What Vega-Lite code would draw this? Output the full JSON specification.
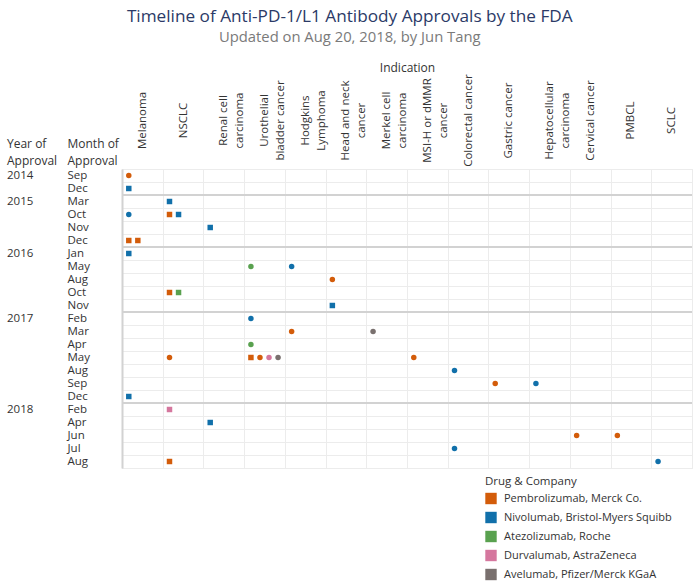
{
  "$schema": "https://vega.github.io/schema/vega-lite/v6.json",
  "width": 570,
  "height": 299,
  "autosize": {"type": "none"},
  "padding": {"left": 122, "top": 169, "right": 4, "bottom": 116},
  "title": {
    "text": "Timeline of Anti-PD-1/L1 Antibody Approvals by the FDA",
    "subtitle": "Updated on Aug 20, 2018, by Jun Tang",
    "anchor": "middle",
    "frame": "bounds",
    "font": "Open Sans",
    "subtitleFont": "Open Sans",
    "fontSize": 17.2,
    "subtitleFontSize": 14.8,
    "fontWeight": "normal",
    "color": "#2b3a67",
    "subtitleColor": "#7a7a7a",
    "subtitlePadding": 5,
    "offset": 16
  },
  "datasets": {
    "approvals": [
      {"Row": "2014 Sep", "Indication": "Melanoma", "Slot": 0, "Drug": "Pembrolizumab, Merck Co.", "Approval": "Accelerated"},
      {"Row": "2014 Dec", "Indication": "Melanoma", "Slot": 0, "Drug": "Nivolumab, Bristol-Myers Squibb", "Approval": "Regular"},
      {"Row": "2015 Mar", "Indication": "NSCLC", "Slot": 0, "Drug": "Nivolumab, Bristol-Myers Squibb", "Approval": "Regular"},
      {"Row": "2015 Oct", "Indication": "Melanoma", "Slot": 0, "Drug": "Nivolumab, Bristol-Myers Squibb", "Approval": "Accelerated"},
      {"Row": "2015 Oct", "Indication": "NSCLC", "Slot": 0, "Drug": "Pembrolizumab, Merck Co.", "Approval": "Regular"},
      {"Row": "2015 Oct", "Indication": "NSCLC", "Slot": 1, "Drug": "Nivolumab, Bristol-Myers Squibb", "Approval": "Regular"},
      {"Row": "2015 Nov", "Indication": "Renal cell carcinoma", "Slot": 0, "Drug": "Nivolumab, Bristol-Myers Squibb", "Approval": "Regular"},
      {"Row": "2015 Dec", "Indication": "Melanoma", "Slot": 0, "Drug": "Pembrolizumab, Merck Co.", "Approval": "Regular"},
      {"Row": "2015 Dec", "Indication": "Melanoma", "Slot": 1, "Drug": "Pembrolizumab, Merck Co.", "Approval": "Regular"},
      {"Row": "2016 Jan", "Indication": "Melanoma", "Slot": 0, "Drug": "Nivolumab, Bristol-Myers Squibb", "Approval": "Regular"},
      {"Row": "2016 May", "Indication": "Urothelial bladder cancer", "Slot": 0, "Drug": "Atezolizumab, Roche", "Approval": "Accelerated"},
      {"Row": "2016 May", "Indication": "Hodgkins Lymphoma", "Slot": 0, "Drug": "Nivolumab, Bristol-Myers Squibb", "Approval": "Accelerated"},
      {"Row": "2016 Aug", "Indication": "Head and neck cancer", "Slot": 0, "Drug": "Pembrolizumab, Merck Co.", "Approval": "Accelerated"},
      {"Row": "2016 Oct", "Indication": "NSCLC", "Slot": 0, "Drug": "Pembrolizumab, Merck Co.", "Approval": "Regular"},
      {"Row": "2016 Oct", "Indication": "NSCLC", "Slot": 1, "Drug": "Atezolizumab, Roche", "Approval": "Regular"},
      {"Row": "2016 Nov", "Indication": "Head and neck cancer", "Slot": 0, "Drug": "Nivolumab, Bristol-Myers Squibb", "Approval": "Regular"},
      {"Row": "2017 Feb", "Indication": "Urothelial bladder cancer", "Slot": 0, "Drug": "Nivolumab, Bristol-Myers Squibb", "Approval": "Accelerated"},
      {"Row": "2017 Mar", "Indication": "Hodgkins Lymphoma", "Slot": 0, "Drug": "Pembrolizumab, Merck Co.", "Approval": "Accelerated"},
      {"Row": "2017 Mar", "Indication": "Merkel cell carcinoma", "Slot": 0, "Drug": "Avelumab, Pfizer/Merck KGaA", "Approval": "Accelerated"},
      {"Row": "2017 Apr", "Indication": "Urothelial bladder cancer", "Slot": 0, "Drug": "Atezolizumab, Roche", "Approval": "Accelerated"},
      {"Row": "2017 May", "Indication": "NSCLC", "Slot": 0, "Drug": "Pembrolizumab, Merck Co.", "Approval": "Accelerated"},
      {"Row": "2017 May", "Indication": "Urothelial bladder cancer", "Slot": 0, "Drug": "Pembrolizumab, Merck Co.", "Approval": "Regular"},
      {"Row": "2017 May", "Indication": "Urothelial bladder cancer", "Slot": 1, "Drug": "Pembrolizumab, Merck Co.", "Approval": "Accelerated"},
      {"Row": "2017 May", "Indication": "Urothelial bladder cancer", "Slot": 2, "Drug": "Durvalumab, AstraZeneca", "Approval": "Accelerated"},
      {"Row": "2017 May", "Indication": "Urothelial bladder cancer", "Slot": 3, "Drug": "Avelumab, Pfizer/Merck KGaA", "Approval": "Accelerated"},
      {"Row": "2017 May", "Indication": "MSI-H or dMMR cancer", "Slot": 0, "Drug": "Pembrolizumab, Merck Co.", "Approval": "Accelerated"},
      {"Row": "2017 Aug", "Indication": "Colorectal cancer", "Slot": 0, "Drug": "Nivolumab, Bristol-Myers Squibb", "Approval": "Accelerated"},
      {"Row": "2017 Sep", "Indication": "Gastric cancer", "Slot": 0, "Drug": "Pembrolizumab, Merck Co.", "Approval": "Accelerated"},
      {"Row": "2017 Sep", "Indication": "Hepatocellular carcinoma", "Slot": 0, "Drug": "Nivolumab, Bristol-Myers Squibb", "Approval": "Accelerated"},
      {"Row": "2017 Dec", "Indication": "Melanoma", "Slot": 0, "Drug": "Nivolumab, Bristol-Myers Squibb", "Approval": "Regular"},
      {"Row": "2018 Feb", "Indication": "NSCLC", "Slot": 0, "Drug": "Durvalumab, AstraZeneca", "Approval": "Regular"},
      {"Row": "2018 Apr", "Indication": "Renal cell carcinoma", "Slot": 0, "Drug": "Nivolumab, Bristol-Myers Squibb", "Approval": "Regular"},
      {"Row": "2018 Jun", "Indication": "Cervical cancer", "Slot": 0, "Drug": "Pembrolizumab, Merck Co.", "Approval": "Accelerated"},
      {"Row": "2018 Jun", "Indication": "PMBCL", "Slot": 0, "Drug": "Pembrolizumab, Merck Co.", "Approval": "Accelerated"},
      {"Row": "2018 Jul", "Indication": "Colorectal cancer", "Slot": 0, "Drug": "Nivolumab, Bristol-Myers Squibb", "Approval": "Accelerated"},
      {"Row": "2018 Aug", "Indication": "NSCLC", "Slot": 0, "Drug": "Pembrolizumab, Merck Co.", "Approval": "Regular"},
      {"Row": "2018 Aug", "Indication": "SCLC", "Slot": 0, "Drug": "Nivolumab, Bristol-Myers Squibb", "Approval": "Accelerated"}
    ],
    "yearStarts": [
      {"Row": "2015 Mar"},
      {"Row": "2016 Jan"},
      {"Row": "2017 Feb"},
      {"Row": "2018 Feb"}
    ]
  },
  "layer": [
    {
      "data": {"name": "yearStarts"},
      "mark": {"type": "rule", "color": "#d2d2d2", "strokeWidth": 2},
      "encoding": {
        "y": {
          "field": "Row",
          "type": "nominal",
          "bandPosition": 0,
          "scale": {
            "type": "band",
            "paddingInner": 0,
            "paddingOuter": 0,
            "domain": ["2014 Sep", "2014 Dec", "2015 Mar", "2015 Oct", "2015 Nov", "2015 Dec", "2016 Jan", "2016 May", "2016 Aug", "2016 Oct", "2016 Nov", "2017 Feb", "2017 Mar", "2017 Apr", "2017 May", "2017 Aug", "2017 Sep", "2017 Dec", "2018 Feb", "2018 Apr", "2018 Jun", "2018 Jul", "2018 Aug"]
          },
          "axis": {
            "orient": "left",
            "title": ["Year of", "Approval"],
            "values": ["2014 Sep", "2015 Mar", "2016 Jan", "2017 Feb", "2018 Feb"],
            "labelExpr": "slice(datum.value, 0, 4)",
            "labelAlign": "left",
            "labelBaseline": "middle",
            "labelPadding": 115.5,
            "labelFontSize": 11.5,
            "ticks": false,
            "tickSize": 0,
            "domain": false,
            "grid": false,
            "titleAngle": 0,
            "titleAlign": "left",
            "titleBaseline": "alphabetic",
            "titleX": -115.5,
            "titleY": -22,
            "titleLineHeight": 17
          }
        }
      }
    },
    {
      "data": {"name": "approvals"},
      "mark": {"type": "point", "filled": true, "size": 30, "opacity": 1},
      "encoding": {
        "x": {
          "field": "Indication",
          "type": "nominal",
          "scale": {
            "type": "band",
            "paddingInner": 0,
            "paddingOuter": 0,
            "domain": ["Melanoma", "NSCLC", "Renal cell carcinoma", "Urothelial bladder cancer", "Hodgkins Lymphoma", "Head and neck cancer", "Merkel cell carcinoma", "MSI-H or dMMR cancer", "Colorectal cancer", "Gastric cancer", "Hepatocellular carcinoma", "Cervical cancer", "PMBCL", "SCLC"]
          },
          "axis": {
            "orient": "top",
            "title": "Indication",
            "labelAngle": -90,
            "labelAlign": "center",
            "labelBaseline": "middle",
            "labelPadding": 49,
            "labelFontSize": 11.5,
            "labelLineHeight": 16,
            "labelLimit": 0,
            "labelExpr": "datum.value == 'Renal cell carcinoma' ? ['Renal cell', 'carcinoma'] : datum.value == 'Urothelial bladder cancer' ? ['Urothelial', 'bladder cancer'] : datum.value == 'Hodgkins Lymphoma' ? ['Hodgkins', 'Lymphoma'] : datum.value == 'Head and neck cancer' ? ['Head and neck', 'cancer'] : datum.value == 'Merkel cell carcinoma' ? ['Merkel cell', 'carcinoma'] : datum.value == 'MSI-H or dMMR cancer' ? ['MSI-H or dMMR', 'cancer'] : datum.value == 'Hepatocellular carcinoma' ? ['Hepatocellular', 'carcinoma'] : datum.value",
            "ticks": false,
            "tickSize": 0,
            "tickBand": "extent",
            "grid": true,
            "gridColor": "#ececec",
            "domain": false,
            "titleY": -98,
            "titleBaseline": "alphabetic"
          }
        },
        "xOffset": {
          "field": "Slot",
          "type": "nominal",
          "scale": {"domain": ["gap0", 0, "gap1", 1, "gap2", 2, "gap3", 3, "gap4"]}
        },
        "y": {
          "field": "Row",
          "type": "nominal",
          "scale": {
            "type": "band",
            "paddingInner": 0,
            "paddingOuter": 0,
            "domain": ["2014 Sep", "2014 Dec", "2015 Mar", "2015 Oct", "2015 Nov", "2015 Dec", "2016 Jan", "2016 May", "2016 Aug", "2016 Oct", "2016 Nov", "2017 Feb", "2017 Mar", "2017 Apr", "2017 May", "2017 Aug", "2017 Sep", "2017 Dec", "2018 Feb", "2018 Apr", "2018 Jun", "2018 Jul", "2018 Aug"]
          },
          "axis": {
            "orient": "left",
            "title": ["Month of", "Approval"],
            "labelExpr": "split(datum.value, ' ')[1]",
            "labelAlign": "left",
            "labelBaseline": "middle",
            "labelPadding": 55,
            "labelFontSize": 11.5,
            "ticks": false,
            "tickSize": 0,
            "tickBand": "extent",
            "grid": true,
            "gridColor": "#ececec",
            "domain": true,
            "domainColor": "#d2d2d2",
            "domainWidth": 2,
            "titleAngle": 0,
            "titleAlign": "left",
            "titleBaseline": "alphabetic",
            "titleX": -55,
            "titleY": -22,
            "titleLineHeight": 17
          }
        },
        "color": {
          "field": "Drug",
          "type": "nominal",
          "scale": {
            "domain": ["Pembrolizumab, Merck Co.", "Nivolumab, Bristol-Myers Squibb", "Atezolizumab, Roche", "Durvalumab, AstraZeneca", "Avelumab, Pfizer/Merck KGaA"],
            "range": ["#d35c0a", "#1170aa", "#59a14f", "#d5779e", "#79706e"]
          },
          "legend": {
            "title": "Drug & Company",
            "orient": "none",
            "legendX": 363,
            "legendY": 307,
            "symbolType": "square",
            "symbolSize": 130,
            "symbolStrokeWidth": 0,
            "symbolOpacity": 1,
            "labelFontSize": 11,
            "labelLimit": 0,
            "titleFontSize": 11.5,
            "titleFontWeight": "normal",
            "titleColor": "#333333",
            "labelColor": "#333333",
            "rowPadding": 7,
            "titlePadding": 5,
            "labelOffset": 7
          }
        },
        "shape": {
          "field": "Approval",
          "type": "nominal",
          "scale": {"domain": ["Accelerated", "Regular"], "range": ["circle", "square"]},
          "legend": null
        }
      }
    }
  ],
  "resolve": {"scale": {"y": "independent"}, "axis": {"y": "independent"}},
  "config": {
    "font": "Open Sans",
    "view": {"stroke": "#e2e2e2"},
    "axis": {
      "labelFont": "Open Sans",
      "titleFont": "Open Sans",
      "labelFontSize": 12,
      "titleFontSize": 12,
      "titleFontWeight": "normal",
      "labelColor": "#333333",
      "titleColor": "#333333"
    },
    "legend": {"labelFont": "Open Sans", "titleFont": "Open Sans"}
  }
}
